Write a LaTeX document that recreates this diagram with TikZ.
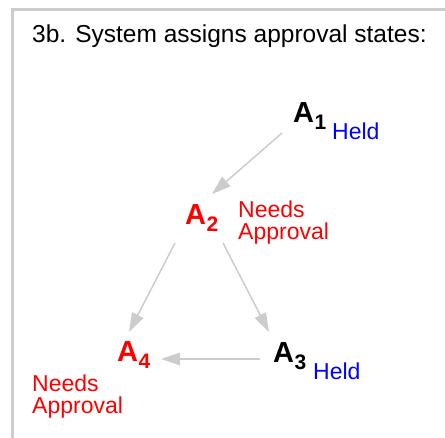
\documentclass[tikz,border=0pt]{standalone}
\usepackage{fontspec}
\setmainfont{Liberation Sans}
\usetikzlibrary{arrows.meta}
\definecolor{edgegray}{RGB}{204,204,204}
\definecolor{needred}{RGB}{255,0,0}
\definecolor{heldblue}{RGB}{0,0,255}
\newcommand{\asub}[1]{\kern0.5pt\raisebox{-7pt}{\fontsize{21}{21}\selectfont #1}}

\begin{document}
\begin{tikzpicture}[x=1pt, y=-1pt,
    state/.style={anchor=base west, inner sep=0pt, font=\fontsize{29}{29}\selectfont\bfseries},
    note/.style={anchor=base west, inner sep=0pt, align=left, font=\fontsize{23}{22}\selectfont},
    edge/.style={-{Triangle[length=19pt,width=12.5pt]}, line width=1.5pt, edgegray}]
    \useasboundingbox (0,0) rectangle (445,438);
    \draw[line width=3pt, edgegray] (12.5,438) -- (12.5,9.5) -- (445,9.5);
    \node[anchor=base west, inner sep=0pt, font=\fontsize{24.5}{24.5}\selectfont] (title) at (32,43) {3b. System assigns approval states:};

    % approval states
    \node[state] (a1) at (293,123) {A\asub{1}};
    \node[state, needred] (a2) at (185,225) {A\asub{2}};
    \node[state] (a3) at (273,363) {A\asub{3}};
    \node[state, needred] (a4) at (117,362) {A\asub{4}};

    % labels (base = last line)
    \node[note, heldblue] (held1) at (332,140) {Held};
    \node[note, needred] (need2) at (238,240) {Needs\\Approval};
    \node[note, heldblue] (held3) at (313,380) {Held};
    \node[note, needred] (need4) at (32,414) {Needs\\Approval};

    % dependencies
    \draw[edge] ([shift={(-11,10)}]a1.base west) -- ([shift={(27,-31)}]a2.base west);
    \draw[edge] ([shift={(-10,18)}]a2.base west) -- ([shift={(12,-30)}]a4.base west);
    \draw[edge] ([shift={(38,18)}]a2.base west) -- ([shift={(-4,-31)}]a3.base west);
    \draw[edge] ([shift={(-13,-4)}]a3.base west) -- ([shift={(44,-3)}]a4.base west);
\end{tikzpicture}
\end{document}
